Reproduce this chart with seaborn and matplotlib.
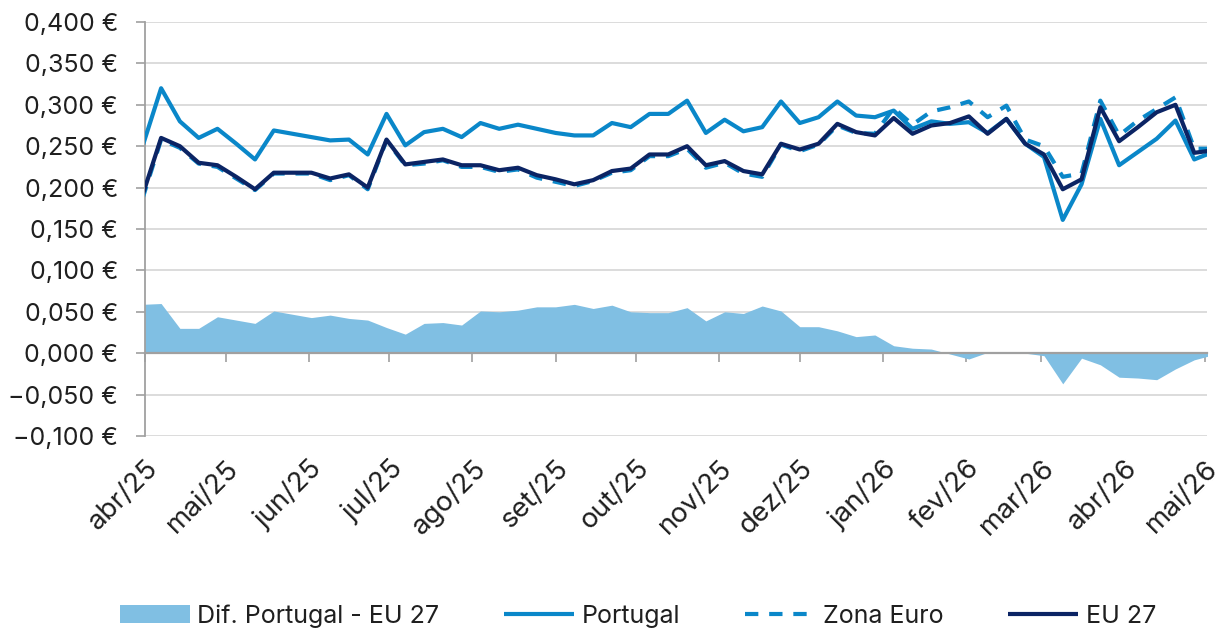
import matplotlib
matplotlib.use("Agg")
import matplotlib.pyplot as plt
import pandas as pd
import seaborn as sns

# Weekly prices (€), one value per Monday starting 2025-03-31
start_date = "2025-03-31"

portugal = [
    0.249, 0.320, 0.280, 0.260, 0.271, 0.253, 0.234, 0.269, 0.265, 0.261,
    0.257, 0.258, 0.240, 0.289, 0.251, 0.267, 0.271, 0.261, 0.278, 0.271,
    0.276, 0.271, 0.266, 0.263, 0.263, 0.278, 0.273, 0.289, 0.289, 0.305,
    0.266, 0.282, 0.268, 0.273, 0.304, 0.278, 0.285, 0.304, 0.287, 0.285,
    0.293, 0.271, 0.280, 0.277, 0.279, 0.266, 0.283, 0.253, 0.237, 0.161,
    0.204, 0.283, 0.227, 0.243, 0.259, 0.281, 0.234, 0.243,
]

zona_euro = [
    0.186, 0.258, 0.248, 0.229, 0.225, 0.211, 0.197, 0.217, 0.217, 0.217,
    0.209, 0.215, 0.198, 0.257, 0.227, 0.229, 0.233, 0.225, 0.225, 0.219,
    0.222, 0.212, 0.207, 0.202, 0.208, 0.218, 0.221, 0.238, 0.238, 0.247,
    0.224, 0.230, 0.217, 0.213, 0.252, 0.244, 0.252, 0.275, 0.266, 0.265,
    0.296, 0.276, 0.292, 0.297, 0.304, 0.285, 0.299, 0.258, 0.250, 0.213,
    0.217, 0.305, 0.263, 0.281, 0.295, 0.309, 0.247, 0.247,
]

eu27 = [
    0.190, 0.260, 0.250, 0.230, 0.227, 0.213, 0.198, 0.218, 0.218, 0.218,
    0.211, 0.216, 0.200, 0.258, 0.228, 0.231, 0.234, 0.227, 0.227, 0.221,
    0.224, 0.215, 0.210, 0.204, 0.209, 0.220, 0.223, 0.240, 0.240, 0.250,
    0.227, 0.232, 0.220, 0.216, 0.253, 0.246, 0.253, 0.277, 0.267, 0.263,
    0.284, 0.265, 0.275, 0.278, 0.286, 0.265, 0.283, 0.253, 0.240, 0.198,
    0.210, 0.297, 0.256, 0.273, 0.291, 0.300, 0.242, 0.245,
]

month_labels = [
    "abr/25", "mai/25", "jun/25", "jul/25", "ago/25", "set/25", "out/25",
    "nov/25", "dez/25", "jan/26", "fev/26", "mar/26", "abr/26", "mai/26",
]

y_ticks = [-0.100, -0.050, 0.000, 0.050, 0.100, 0.150, 0.200, 0.250,
           0.300, 0.350, 0.400]
y_labels = ["\u22120,100 €", "\u22120,050 €", "0,000 €", "0,050 €", "0,100 €",
            "0,150 €", "0,200 €", "0,250 €", "0,300 €", "0,350 €", "0,400 €"]

LBL_DIF = "Dif. Portugal - EU 27"
LBL_PT = "Portugal"
LBL_ZE = "Zona Euro"
LBL_EU = "EU 27"

C_AREA = "#80BFE3"
C_PT = "#0A87C9"
C_EU = "#0B2464"
C_GRID = "#D9D9D9"
C_AXIS = "#A0A0A0"
C_TEXT = "#1F1F1F"

dates = pd.date_range(start_date, periods=len(portugal), freq="7D")
df = pd.DataFrame({
    "data": dates,
    LBL_PT: portugal,
    LBL_ZE: zona_euro,
    LBL_EU: eu27,
})
df[LBL_DIF] = df[LBL_PT] - df[LBL_EU]

month_ticks = pd.date_range("2025-04-01", periods=len(month_labels), freq="MS")

sns.set_theme(style="white")
plt.rcParams["font.family"] = ["Inter", "DejaVu Sans"]

W, H = 1221, 631
fig = plt.figure(figsize=(W / 100, H / 100), dpi=100)
ax = fig.add_axes([145 / W, 1 - 436 / H, (1207 - 145) / W, (436 - 22) / H])

# Difference as a filled area around zero
ax.fill_between(df["data"], df[LBL_DIF], 0, color=C_AREA, lw=0,
                label=LBL_DIF, zorder=2)

sns.lineplot(data=df, x="data", y=LBL_PT, ax=ax, color=C_PT, lw=3.0,
             label=LBL_PT, zorder=3)
sns.lineplot(data=df, x="data", y=LBL_ZE, ax=ax, color=C_PT, lw=3.0,
             label=LBL_ZE, zorder=4)
sns.lineplot(data=df, x="data", y=LBL_EU, ax=ax, color=C_EU, lw=3.0,
             label=LBL_EU, zorder=5)
for ln in ax.get_lines():
    if ln.get_label() == LBL_ZE:
        ln.set_linestyle((0, (3.2, 2.6)))
    ln.set_solid_capstyle("butt")

if ax.get_legend() is not None:
    ax.get_legend().remove()

# Category axis sits on the zero line; its labels stay below the plot
for s in ("top", "right"):
    ax.spines[s].set_visible(False)
ax.spines["left"].set_color(C_AXIS)
ax.spines["left"].set_linewidth(1.3)
ax.spines["bottom"].set_position(("data", 0))
ax.spines["bottom"].set_color(C_AXIS)
ax.spines["bottom"].set_linewidth(1.6)
ax.spines["bottom"].set_zorder(6)

ax.set_xlim(pd.Timestamp("2025-04-01"), pd.Timestamp("2026-05-01 18:00"))
ax.set_ylim(-0.100, 0.400)

ax.set_yticks(y_ticks)
ax.set_yticklabels(y_labels)
ax.set_xticks(month_ticks)
ax.set_xticklabels(month_labels, rotation=45, ha="right", va="top",
                   rotation_mode="anchor")
ax.set_xlabel("")
ax.set_ylabel("")

ax.grid(axis="y", color=C_GRID, lw=1.3, zorder=0)
ax.grid(axis="x", visible=False)
ax.set_axisbelow(True)

ax.tick_params(axis="y", which="major", left=True, length=6.5, width=1.2,
               color=C_AXIS, pad=13, labelsize=18, labelcolor=C_TEXT)
ax.tick_params(axis="x", which="major", bottom=True, length=6.5, width=1.2,
               color=C_AXIS, pad=67, labelsize=20, labelcolor=C_TEXT)

handles, labels = ax.get_legend_handles_labels()
order = [LBL_DIF, LBL_PT, LBL_ZE, LBL_EU]
hmap = dict(zip(labels, handles))
fig.legend([hmap[k] for k in order], order, loc="center",
           bbox_to_anchor=(0.5225, 0.024), ncol=4, frameon=False,
           fontsize=18, handlelength=2.8, columnspacing=2.6,
           handletextpad=0.3, labelcolor=C_TEXT)

fig.savefig("out.png", dpi=100)
